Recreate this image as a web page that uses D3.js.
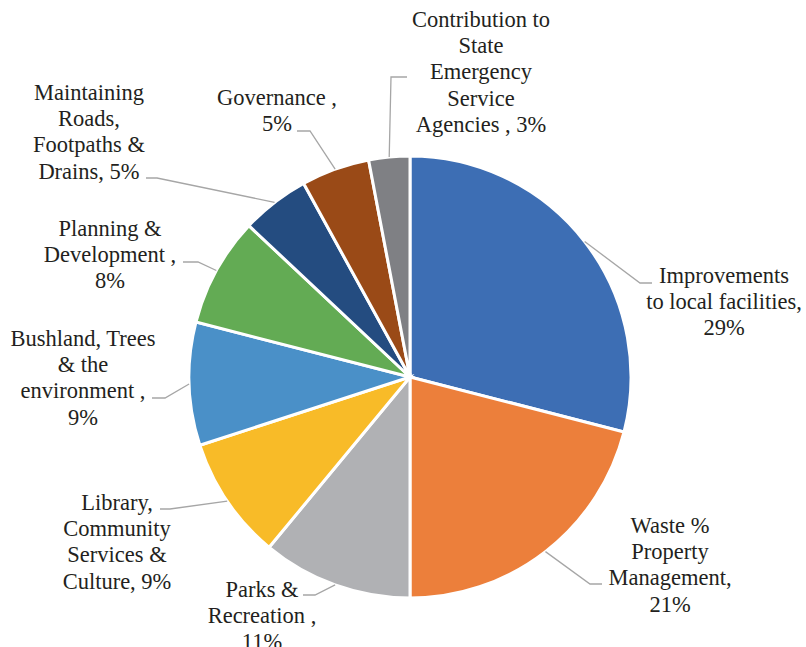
<!DOCTYPE html>
<html>
<head>
<meta charset="utf-8">
<script src="https://cdn.jsdelivr.net/npm/d3@7"></script>
<style>
    body { margin: 0; background: #ffffff; }
</style>
</head>
<body>
<svg id="chart" width="806" height="647"></svg>
<script>

// Spending categories, clockwise from 12 o'clock
var categories = ["Improvements to local facilities", "Waste % Property Management",
    "Parks & Recreation", "Library, Community Services & Culture",
    "Bushland, Trees & the environment", "Planning & Development",
    "Maintaining Roads, Footpaths & Drains", "Governance",
    "Contribution to State Emergency Service Agencies"];
var values = [29, 21, 11, 9, 9, 8, 5, 5, 3];

// Label text as printed, one entry per line
var labelLines = [
    ["Improvements", "to local facilities,", "29%"],
    ["Waste %", "Property", "Management,", "21%"],
    ["Parks &", "Recreation ,", "11%"],
    ["Library,", "Community", "Services &", "Culture, 9%"],
    ["Bushland, Trees", "& the", "environment ,", "9%"],
    ["Planning &", "Development ,", "8%"],
    ["Maintaining", "Roads,", "Footpaths &", "Drains, 5%"],
    ["Governance ,", "5%"],
    ["Contribution to", "State", "Emergency", "Service", "Agencies , 3%"]
];

var colors = ["#3d6eb4", "#ec7f3b", "#b0b1b4", "#f8bb28", "#4a90c8",
    "#63ab54", "#244c80", "#9a4a17", "#7f8084"];

// Where each label sits (text centre, first baseline) and its leader elbow / end
var labelLayout = [
    {x: 724, y: 283, elbow: [640, 283], end: [652, 283]},
    {x: 670, y: 533, elbow: [590, 584], end: [602, 584]},
    {x: 262, y: 597, elbow: [315, 595], end: [303, 595]},
    {x: 117, y: 510, elbow: [170, 509], end: [160, 509]},
    {x: 83, y: 346, elbow: [165, 398], end: [152, 398]},
    {x: 110, y: 236, elbow: [198, 262], end: [183, 262]},
    {x: 89, y: 100, elbow: [157, 178], end: [146, 178]},
    {x: 277, y: 105, elbow: [310, 131], end: [297, 131]},
    {x: 481, y: 27, elbow: [391, 77], end: [407, 77]}
];

var cx = 410, cy = 377, radius = 221, lineStep = 26.2;
var fontStack = "'Liberation Serif', 'Times New Roman', 'DejaVu Serif', serif";

var svg = d3.select("#chart");
var g = svg.append("g").attr("transform", "translate(" + cx + "," + cy + ")");

var pie = d3.pie().sort(null).value(function(d) { return d; });
var arc = d3.arc().innerRadius(0).outerRadius(radius);
var arcs = pie(values);

// Slices
g.selectAll("path.slice")
    .data(arcs)
    .enter()
    .append("path")
    .attr("class", "slice")
    .attr("d", arc)
    .style("fill", function(d, i) { return colors[i]; })
    .style("stroke", "#ffffff")
    .style("stroke-width", 3);

// Leader lines from the slice edge to the label
svg.selectAll("polyline.leader")
    .data(arcs)
    .enter()
    .append("polyline")
    .attr("class", "leader")
    .attr("points", function(d, i) {
        var mid = (d.startAngle + d.endAngle) / 2;
        var sx = cx + radius * Math.sin(mid);
        var sy = cy - radius * Math.cos(mid);
        var lay = labelLayout[i];
        return [[sx, sy], lay.elbow, lay.end].map(function(p) { return p.join(","); }).join(" ");
    })
    .style("fill", "none")
    .style("stroke", "#a6a6a6")
    .style("stroke-width", 1.3);

// Labels
var labels = svg.selectAll("text.label")
    .data(labelLines)
    .enter()
    .append("text")
    .attr("class", "label")
    .attr("text-anchor", "middle")
    .attr("font-family", fontStack)
    .attr("font-size", "22.5px")
    .style("font-family", fontStack)
    .style("fill", "#231f20");

labels.selectAll("tspan")
    .data(function(d, i) {
        return d.map(function(line, j) { return {text: line, i: i, j: j}; });
    })
    .enter()
    .append("tspan")
    .attr("x", function(d) { return labelLayout[d.i].x; })
    .attr("y", function(d) { return labelLayout[d.i].y + d.j * lineStep; })
    .text(function(d) { return d.text; });

</script>
</body>
</html>
